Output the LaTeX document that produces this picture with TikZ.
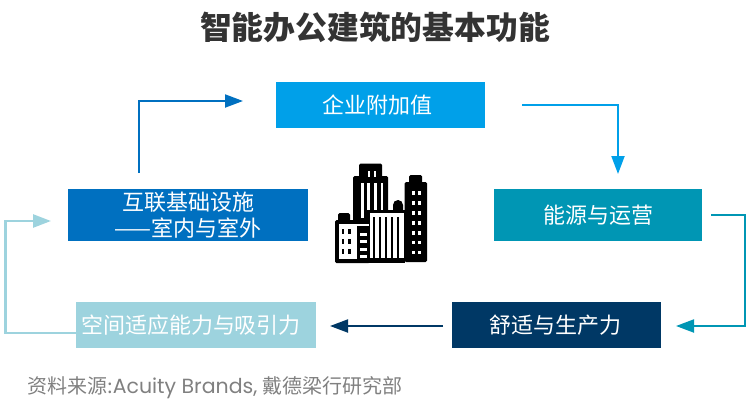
\documentclass[tikz,border=0pt]{standalone}
\usepackage{fontspec}
\setmainfont{Noto Sans CJK SC}
\newfontfamily\latinfont{Poppins}
\usetikzlibrary{arrows.meta}
\definecolor{skyblue}{HTML}{00A0E9}
\definecolor{midblue}{HTML}{0070C0}
\definecolor{tealblue}{HTML}{0096B4}
\definecolor{darkblue}{HTML}{003865}
\definecolor{paleblue}{HTML}{9DD3DE}
\definecolor{titlegray}{HTML}{333333}
\tikzset{
  funcbox/.style={minimum width=#1,inner sep=0pt,text=white,align=center,font=\fontsize{22}{26}\selectfont},
  link/.style={line width=2pt,-{Triangle[length=18pt,width=13pt]}},
}
\begin{document}
\begin{tikzpicture}[x=1pt,y=-1pt]
	  \useasboundingbox (0,0) rectangle (750,410);
	  \node[text=titlegray] (title) at (375,27) {\fontsize{31.8}{36}\selectfont\bfseries 智能办公建筑的基本功能};
	  % the five boxes
	  \node[funcbox=209pt,minimum height=46pt,fill=skyblue] (value) at (380.5,105) {企业附加值\hspace{7pt}};
	  \node[funcbox=240pt,minimum height=52pt,fill=midblue] (infra) at (188,215) {互联基础设施\\——室内与室外};
	  \node[funcbox=208pt,minimum height=52pt,fill=tealblue] (energy) at (598,215) {能源与运营};
	  \node[funcbox=209pt,minimum height=46pt,fill=darkblue] (comfort) at (556.5,325) {舒适与生产力\hspace{2pt}};
	  \node[funcbox=240pt,minimum height=46pt,fill=paleblue] (space) at (196,325) {空间适应能力与吸引力\hspace{10pt}};
	  % free ends of the connectors
	  \coordinate (infraout) at (139,173);
	  \coordinate (valuein) at (243,101);
	  \coordinate (valueout) at (522,105);
	  \coordinate (energyin) at (618,174);
	  \coordinate (energyout) at (711,215);
	  \coordinate (comfortin) at (676,326);
	  \coordinate (comfortout) at (443,326);
	  \coordinate (spacein) at (330,326);
	  \coordinate (spaceout) at (76,333);
	  \coordinate (infrain) at (51,221);
	  % connectors
	  \draw[link,midblue] (infraout) |- (valuein);
	  \draw[link,skyblue] (valueout) -| (energyin);
	  \draw[link,tealblue] (energyout) -- (745,215) -- (745,326) -- (comfortin);
	  \draw[link,darkblue] (comfortout) -- (spacein);
	  \draw[link,paleblue,line width=2.6pt] (spaceout) -- (5.5,333) -- (5.5,221) -- (infrain);
	  % buildings
	  \begin{scope}
	    \fill[rounded corners=1.5pt] (353,176) rectangle (388,262);
	    \fill[rounded corners=1.5pt] (359,163.5) rectangle (382,180);
	    \fill[rounded corners=1.5pt] (404.5,182) rectangle (427,262);
	    \fill[rounded corners=1.5pt] (409,175) rectangle (422,186);
	    \fill[rounded corners=1.5pt] (335,220) rectangle (370,263);
	    \fill[rounded corners=1.5pt] (338,213) rectangle (350,224);
	    \fill (368,210) rectangle (405,263);
	    \fill (393,211) -- (393,205) arc (180:360:5) -- (403,211) -- cycle;
	    \fill (397.5,200) rectangle (398.5,204);
	    % tower stripes
	    \foreach \xpos/\ytop/\ybot in {361/183/218,367/183/210,374/183/210,380.5/183/210}
	      \fill[white] (\xpos,\ytop) rectangle ++(2.5,\ybot-\ytop);
	    \foreach \xpos in {367.5,373.5}
	      \fill[white] (\xpos,171) rectangle ++(2.5,6);
	    % middle block
	    \fill[white] (369.5,213) rectangle (403.5,258);
	    \foreach \xpos in {373,379,385,391,397}
	      \fill (\xpos,217) rectangle ++(2.2,41);
	    \fill (369,258) rectangle (405,263);
	    % left block
	    \fill[white] (338.5,224) rectangle (357,258.5);
	    \fill[white] (357,224) rectangle (369,226);
	    \foreach \ypos in {229,239,249}
	      \foreach \xpos in {341.5,348}
	        \fill (\xpos,\ypos) rectangle ++(2.5,4.5);
	    \foreach \ypos in {233,240,248,255}
	      \fill[white] (360,\ypos) rectangle ++(6.5,2.5);
	    % right tower windows
	    \foreach \ypos in {191,201,211,221,231,240.5,250.5}
	      \foreach \xpos in {412,418}
	        \fill[white] (\xpos,\ypos) rectangle ++(2.5,3.5);
	  \end{scope}
	  \node[text=black!50,anchor=west,inner sep=0pt] (source) at (27,388) {\fontsize{20}{24}\selectfont 资料来源:{\latinfont\fontsize{20.5}{24}\selectfont Acuity Brands,\kern5pt}戴德梁行研究部};
\end{tikzpicture}
\end{document}
